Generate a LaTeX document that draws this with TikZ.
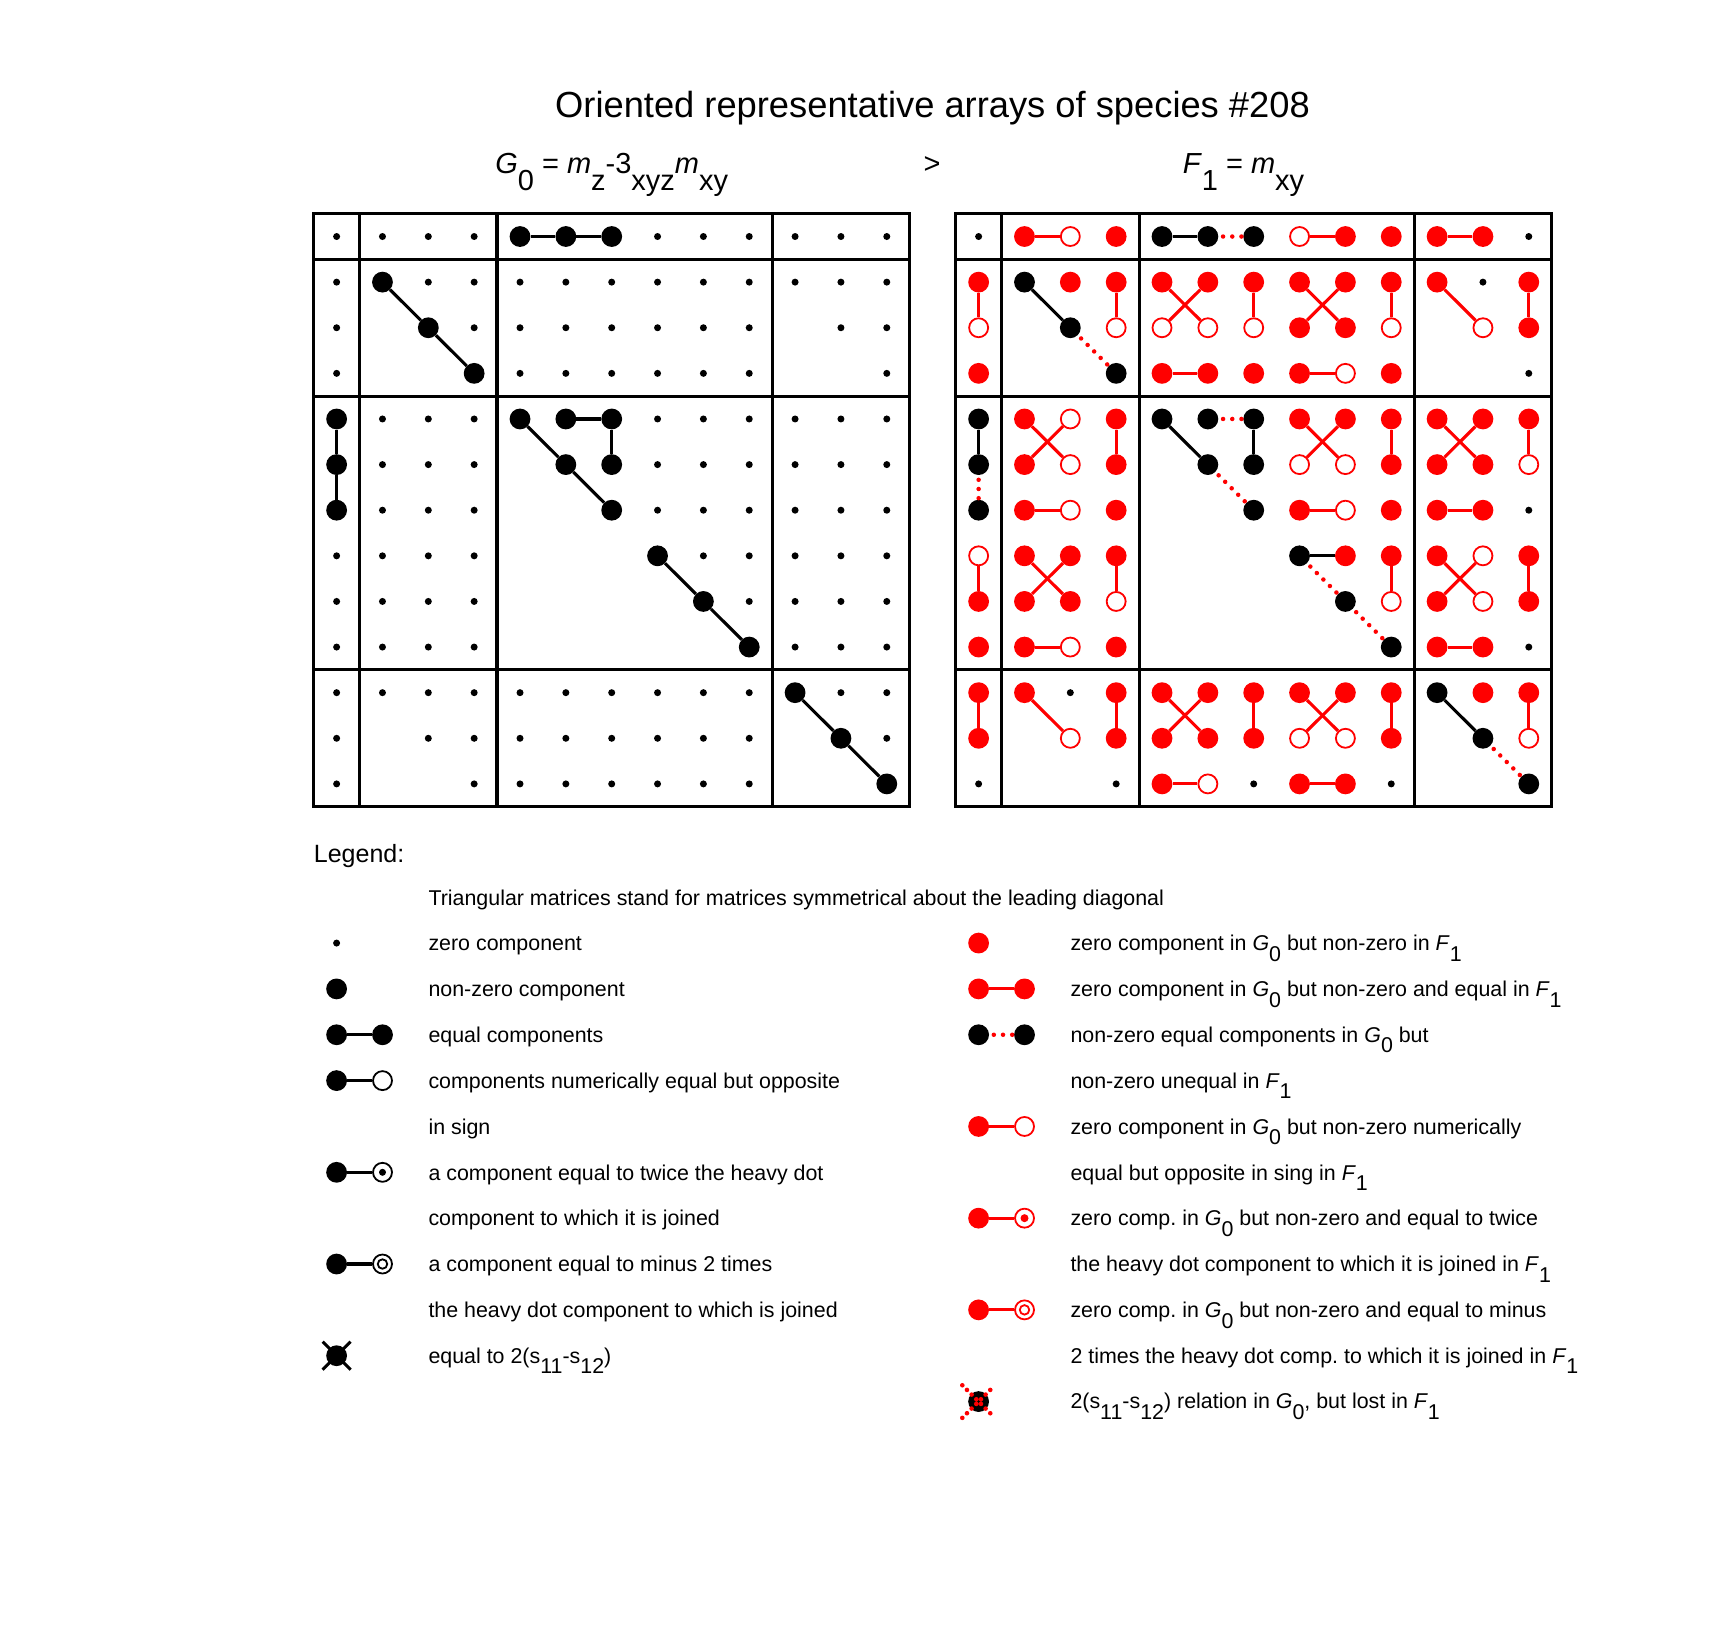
\documentclass[tikz,border=0pt]{standalone}
\usepackage{fontspec}
\setmainfont{Liberation Sans}
\usetikzlibrary{shapes.misc}

\newcommand\dn[1]{\raisebox{-10.5pt}{#1}}
\newcommand\dnb[1]{\raisebox{-17pt}{#1}}

\tikzset{
  symz/.style={circle, fill=black, inner sep=0pt, minimum size=7pt},
  symb/.style={circle, fill=black, inner sep=0pt, minimum size=20.8pt},
  symr/.style={circle, fill=red, inner sep=0pt, minimum size=20.8pt},
  symo/.style={circle, draw=red, fill=white, line width=1.8pt, inner sep=0pt, minimum size=19pt},
  symbo/.style={circle, draw=black, fill=white, line width=1.8pt, inner sep=0pt, minimum size=19pt},
  innerb/.style={circle, fill=black, inner sep=0pt, minimum size=7pt},
  innerr/.style={circle, fill=red, inner sep=0pt, minimum size=8pt},
  ringb/.style={circle, draw=black, line width=1.8pt, inner sep=0pt, minimum size=9.5pt},
  ringr/.style={circle, draw=red, line width=1.8pt, inner sep=0pt, minimum size=9.5pt},
  crossb/.style={cross out, draw=black, line width=3pt, inner sep=0pt, minimum size=25pt},
  crossr/.style={cross out, draw=red, line width=4.6pt, line cap=round, dash pattern=on 0pt off 6.59pt, inner sep=0pt, minimum size=28pt},
  blk/.style={black, line width=3.1pt},
  rdl/.style={red, line width=3.1pt},
  rdot/.style={red, line width=4.5pt, line cap=round, dash pattern=on 0pt off 9.2pt, dash phase=4.6pt},
  frame/.style={black, line width=3.2pt},
  lgtext/.style={anchor=base west, inner sep=0pt, font=\fontsize{21.4}{25}\selectfont},
}

\def\px{45.846}
\def\py{45.615}
\def\oy{213.7}
\newcommand\mrow[3]{%
  \foreach \t [count=\c from 0] in {#3} {%
    \if\t n\else
      \edef\tmp{\noexpand\node[sym\t] (#1-#2-\c) at ({\ox+(\c+0.5)*\px},{\oy+(#2+0.5)*\py}) {};}%
      \tmp
    \fi}%
}

\begin{document}
\frenchspacing
\begin{tikzpicture}[x=1pt,y=-1pt]
\useasboundingbox (0,0) rectangle (1715,1626);
\fill[white] (0,0) rectangle (1715,1626);

% titles
\node[anchor=base, inner sep=0pt, font=\fontsize{36.3}{40}\selectfont] (title) at (932.5,117) {Oriented representative arrays of species \#208};
\node[anchor=base, inner sep=0pt, font=\fontsize{29}{33}\selectfont] (subG) at (611.7,173) {\textit{G}\dnb{0} = \textit{m}\dnb{z}-3\dnb{xyz}\textit{m}\dnb{xy}};
\node[anchor=base, inner sep=0pt, font=\fontsize{29}{33}\selectfont] (gt) at (932,173) {>};
\node[anchor=base west, inner sep=0pt, font=\fontsize{29}{33}\selectfont] (subF) at (1182.6,173) {\textit{F}\dnb{1} = \textit{m}\dnb{xy}};

% frames
\foreach \X in {313.7,955.7}{
  \draw[frame] (\X,\oy) rectangle ++(596,593);
  \foreach \k in {1,4,10}{
    \draw[frame] ({\X+\k*\px},\oy) -- ++(0,593);
    \draw[frame] (\X,{\oy+\k*\py}) -- ++(596,0);
  }
}

% left matrix G0
\def\ox{313.7}
\mrow{L}{0}{z,z,z,z,b,b,b,z,z,z,z,z,z}
\mrow{L}{1}{z,b,z,z,z,z,z,z,z,z,z,z,z}
\mrow{L}{2}{z,n,b,z,z,z,z,z,z,z,n,z,z}
\mrow{L}{3}{z,n,n,b,z,z,z,z,z,z,n,n,z}
\mrow{L}{4}{b,z,z,z,b,b,b,z,z,z,z,z,z}
\mrow{L}{5}{b,z,z,z,n,b,b,z,z,z,z,z,z}
\mrow{L}{6}{b,z,z,z,n,n,b,z,z,z,z,z,z}
\mrow{L}{7}{z,z,z,z,n,n,n,b,z,z,z,z,z}
\mrow{L}{8}{z,z,z,z,n,n,n,n,b,z,z,z,z}
\mrow{L}{9}{z,z,z,z,n,n,n,n,n,b,z,z,z}
\mrow{L}{10}{z,z,z,z,z,z,z,z,z,z,b,z,z}
\mrow{L}{11}{z,n,z,z,z,z,z,z,z,z,n,b,z}
\mrow{L}{12}{z,n,n,z,z,z,z,z,z,z,n,n,b}

\draw[blk] (L-0-4) -- (L-0-5) -- (L-0-6);
\draw[blk] (L-1-1) -- (L-2-2) -- (L-3-3);
\draw[blk] (L-4-0) -- (L-5-0) -- (L-6-0);
\draw[blk] (L-4-4) -- (L-5-5) -- (L-6-6);
\draw[blk] (L-4-5) -- (L-4-6) -- (L-5-6);
\draw[blk] (L-7-7) -- (L-8-8) -- (L-9-9);
\draw[blk] (L-10-10) -- (L-11-11) -- (L-12-12);

% right matrix F1
\def\ox{955.7}
\mrow{R}{0}{z,r,o,r,b,b,b,o,r,r,r,r,z}
\mrow{R}{1}{r,b,r,r,r,r,r,r,r,r,r,z,r}
\mrow{R}{2}{o,n,b,o,o,o,o,r,r,o,n,o,r}
\mrow{R}{3}{r,n,n,b,r,r,r,r,o,r,n,n,z}
\mrow{R}{4}{b,r,o,r,b,b,b,r,r,r,r,r,r}
\mrow{R}{5}{b,r,o,r,n,b,b,o,o,r,r,r,o}
\mrow{R}{6}{b,r,o,r,n,n,b,r,o,r,r,r,z}
\mrow{R}{7}{o,r,r,r,n,n,n,b,r,r,r,o,r}
\mrow{R}{8}{r,r,r,o,n,n,n,n,b,o,r,o,r}
\mrow{R}{9}{r,r,o,r,n,n,n,n,n,b,r,r,z}
\mrow{R}{10}{r,r,z,r,r,r,r,r,r,r,b,r,r}
\mrow{R}{11}{r,n,o,r,r,r,r,o,o,r,n,b,o}
\mrow{R}{12}{z,n,n,z,r,o,z,r,r,z,n,n,b}

\draw[rdl] (R-0-1) -- (R-0-2);
\draw[blk] (R-0-4) -- (R-0-5);
\draw[rdot] (R-0-5) -- (R-0-6);
\draw[rdl] (R-0-7) -- (R-0-8);
\draw[rdl] (R-0-10) -- (R-0-11);
\draw[rdl] (R-1-0) -- (R-2-0);
\draw[blk] (R-1-1) -- (R-2-2);
\draw[rdot] (R-2-2) -- (R-3-3);
\draw[rdl] (R-1-3) -- (R-2-3);
\draw[rdl] (R-1-4) -- (R-2-5);
\draw[rdl] (R-1-5) -- (R-2-4);
\draw[rdl] (R-1-6) -- (R-2-6);
\draw[rdl] (R-1-7) -- (R-2-8);
\draw[rdl] (R-1-8) -- (R-2-7);
\draw[rdl] (R-1-9) -- (R-2-9);
\draw[rdl] (R-1-10) -- (R-2-11);
\draw[rdl] (R-1-12) -- (R-2-12);
\draw[rdl] (R-3-4) -- (R-3-5);
\draw[rdl] (R-3-7) -- (R-3-8);
\draw[blk] (R-4-0) -- (R-5-0);
\draw[rdot] (R-5-0) -- (R-6-0);
\draw[rdl] (R-4-1) -- (R-5-2);
\draw[rdl] (R-4-2) -- (R-5-1);
\draw[rdl] (R-4-3) -- (R-5-3);
\draw[blk] (R-4-4) -- (R-5-5);
\draw[rdot] (R-5-5) -- (R-6-6);
\draw[rdot] (R-4-5) -- (R-4-6);
\draw[blk] (R-4-6) -- (R-5-6);
\draw[rdl] (R-4-7) -- (R-5-8);
\draw[rdl] (R-4-8) -- (R-5-7);
\draw[rdl] (R-4-9) -- (R-5-9);
\draw[rdl] (R-4-10) -- (R-5-11);
\draw[rdl] (R-4-11) -- (R-5-10);
\draw[rdl] (R-4-12) -- (R-5-12);
\draw[rdl] (R-6-1) -- (R-6-2);
\draw[rdl] (R-6-7) -- (R-6-8);
\draw[rdl] (R-6-10) -- (R-6-11);
\draw[rdl] (R-7-0) -- (R-8-0);
\draw[rdl] (R-7-1) -- (R-8-2);
\draw[rdl] (R-7-2) -- (R-8-1);
\draw[rdl] (R-7-3) -- (R-8-3);
\draw[blk] (R-7-7) -- (R-7-8);
\draw[rdot] (R-7-7) -- (R-8-8);
\draw[rdot] (R-8-8) -- (R-9-9);
\draw[rdl] (R-7-9) -- (R-8-9);
\draw[rdl] (R-7-10) -- (R-8-11);
\draw[rdl] (R-7-11) -- (R-8-10);
\draw[rdl] (R-7-12) -- (R-8-12);
\draw[rdl] (R-9-1) -- (R-9-2);
\draw[rdl] (R-9-10) -- (R-9-11);
\draw[rdl] (R-10-0) -- (R-11-0);
\draw[rdl] (R-10-1) -- (R-11-2);
\draw[rdl] (R-10-3) -- (R-11-3);
\draw[rdl] (R-10-4) -- (R-11-5);
\draw[rdl] (R-10-5) -- (R-11-4);
\draw[rdl] (R-10-6) -- (R-11-6);
\draw[rdl] (R-10-7) -- (R-11-8);
\draw[rdl] (R-10-8) -- (R-11-7);
\draw[rdl] (R-10-9) -- (R-11-9);
\draw[blk] (R-10-10) -- (R-11-11);
\draw[rdot] (R-11-11) -- (R-12-12);
\draw[rdl] (R-10-12) -- (R-11-12);
\draw[rdl] (R-12-4) -- (R-12-5);
\draw[rdl] (R-12-7) -- (R-12-8);

% legend
\node[anchor=base west, inner sep=0pt, font=\fontsize{25}{29}\selectfont] (legend) at (313.7,862) {Legend:};

% left legend column
\node[lgtext] (t0) at (428.3,905.5) {Triangular matrices stand for matrices symmetrical about the leading diagonal};
\node[symz] (s1) at (336.6,943.05) {};
\node[lgtext] (t1) at (428.3,950.8) {zero component};
\node[symb] (s2) at (336.6,988.9) {};
\node[lgtext] (t2) at (428.3,996.6) {non-zero component};
\node[symb] (s3a) at (336.6,1034.75) {};
\node[symb] (s3b) at (382.5,1034.75) {};
\draw[blk] (s3a) -- (s3b);
\node[lgtext] (t3) at (428.3,1042.4) {equal components};
\node[symb] (s4a) at (336.6,1080.6) {};
\node[symbo] (s4b) at (382.5,1080.6) {};
\draw[blk] (s4a) -- (s4b);
\node[lgtext] (t4) at (428.3,1088.3) {components numerically equal but opposite};
\node[lgtext] (t5) at (428.3,1134.1) {in sign};
\node[symb] (s6a) at (336.6,1172.3) {};
\node[symbo] (s6b) at (382.5,1172.3) {};
\node[innerb] (s6c) at (s6b) {};
\draw[blk] (s6a) -- (s6b);
\node[lgtext] (t6) at (428.3,1180.0) {a component equal to twice the heavy dot};
\node[lgtext] (t7) at (428.3,1225.8) {component to which it is joined};
\node[symb] (s8a) at (336.6,1264.0) {};
\node[symbo] (s8b) at (382.5,1264.0) {};
\node[ringb] (s8c) at (s8b) {};
\draw[blk] (s8a) -- (s8b);
\node[lgtext] (t8) at (428.3,1271.7) {a component equal to minus 2 times};
\node[lgtext] (t9) at (428.3,1317.5) {the heavy dot component to which is joined};
\node[symb] (s10a) at (336.6,1355.7) {};
\node[crossb] (s10b) at (s10a) {};
\node[lgtext] (t10) at (428.3,1363.4) {equal to 2(s\dn{11}-s\dn{12})};

% right legend column
\node[symr] (u1) at (978.6,943.05) {};
\node[lgtext] (v1) at (1070.3,950.8) {zero component in \textit{G}\dn{0} but non-zero in \textit{F}\dn{1}};
\node[symr] (u2a) at (978.6,988.9) {};
\node[symr] (u2b) at (1024.5,988.9) {};
\draw[rdl] (u2a) -- (u2b);
\node[lgtext] (v2) at (1070.3,996.6) {zero component in \textit{G}\dn{0} but non-zero and equal in \textit{F}\dn{1}};
\node[symb] (u3a) at (978.6,1034.75) {};
\node[symb] (u3b) at (1024.5,1034.75) {};
\draw[rdot] (u3a) -- (u3b);
\node[lgtext] (v3) at (1070.3,1042.4) {non-zero equal components in \textit{G}\dn{0} but};
\node[lgtext] (v4) at (1070.3,1088.3) {non-zero unequal in \textit{F}\dn{1}};
\node[symr] (u5a) at (978.6,1126.45) {};
\node[symo] (u5b) at (1024.5,1126.45) {};
\draw[rdl] (u5a) -- (u5b);
\node[lgtext] (v5) at (1070.3,1134.1) {zero component in \textit{G}\dn{0} but non-zero numerically};
\node[lgtext] (v6) at (1070.3,1180.0) {equal but opposite in sing in \textit{F}\dn{1}};
\node[symr] (u7a) at (978.6,1218.15) {};
\node[symo] (u7b) at (1024.5,1218.15) {};
\node[innerr] (u7c) at (u7b) {};
\draw[rdl] (u7a) -- (u7b);
\node[lgtext] (v7) at (1070.3,1225.8) {zero comp. in \textit{G}\dn{0} but non-zero and equal to twice};
\node[lgtext] (v8) at (1070.3,1271.7) {the heavy dot component to which it is joined in \textit{F}\dn{1}};
\node[symr] (u9a) at (978.6,1309.85) {};
\node[symo] (u9b) at (1024.5,1309.85) {};
\node[ringr] (u9c) at (u9b) {};
\draw[rdl] (u9a) -- (u9b);
\node[lgtext] (v9) at (1070.3,1317.5) {zero comp. in \textit{G}\dn{0} but non-zero and equal to minus};
\node[lgtext] (v10) at (1070.3,1363.4) {2 times the heavy dot comp. to which it is joined in \textit{F}\dn{1}};
\node[symb] (u11a) at (978.6,1401.55) {};
\node[crossr] (u11b) at (u11a) {};
\node[lgtext] (v11) at (1070.3,1408.5) {2(s\dn{11}-s\dn{12}) relation in \textit{G}\dn{0}, but lost in \textit{F}\dn{1}};
\end{tikzpicture}
\end{document}
